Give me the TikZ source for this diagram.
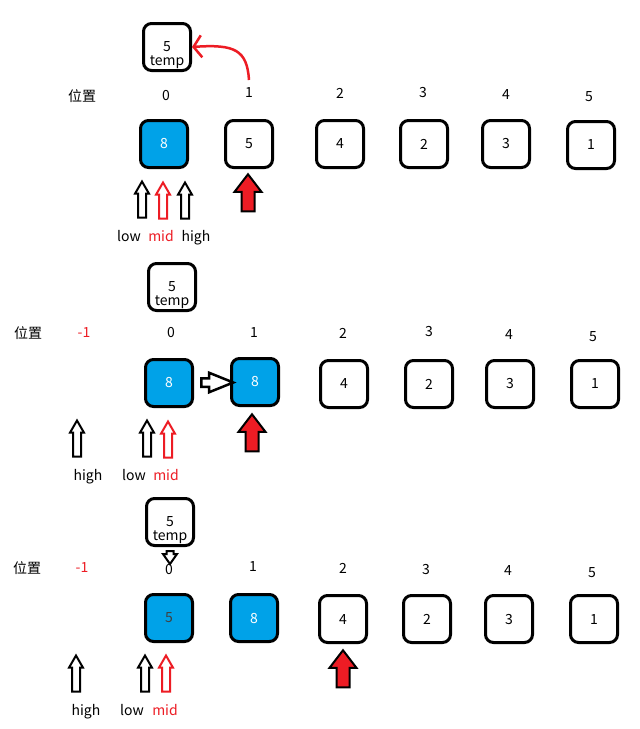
\documentclass[tikz,border=0pt]{standalone}
\usepackage{fontspec}
\setmainfont{Noto Sans CJK SC}
\usetikzlibrary{shapes.arrows,arrows.meta,calc}
\definecolor{paintblue}{RGB}{0,162,232}
\definecolor{paintred}{RGB}{237,28,36}

\begin{document}
\begin{tikzpicture}[x=1pt,y=-1pt,
	every node/.style={font=\fontsize{14}{16}\selectfont},
	cell/.style={draw,line width=3pt,rounded corners=8pt,minimum size=47pt,inner sep=0pt},
	bluecell/.style={cell,fill=paintblue,text=white},
	bluecelldark/.style={cell,fill=paintblue,text=black!75},
	ptr/.style={single arrow,draw=black,fill=white,line width=2pt,rotate=90,inner xsep=0pt,inner ysep=3pt,
		minimum height=36pt,single arrow head extend=3pt,single arrow tip angle=60},
	ptrmid/.style={ptr,draw=paintred},
	cur/.style={single arrow,draw=black,fill=paintred,line width=2pt,rotate=90,inner xsep=0pt,inner ysep=5.5pt,
		minimum height=37pt,single arrow head extend=7pt,single arrow tip angle=75},
	movearr/.style={single arrow,draw=black,fill=white,line width=2.5pt,inner xsep=0pt,inner ysep=3pt,
		minimum height=32pt,single arrow head extend=5.5pt,single arrow tip angle=44},
	drop/.style={single arrow,draw=black,fill=white,line width=2pt,rotate=-90,inner xsep=0pt,inner ysep=2.5pt,
		minimum height=13pt,single arrow head extend=3.5pt,single arrow tip angle=70},
	lbl/.style={anchor=base},
	]
	\useasboundingbox[fill=white] (0,0) rectangle (640,729);

	% step 1
	\node[cell] (t1) at (167,47) {};
	\node (t1v) at ($(t1.center)+(0,0)$) {5};
	\node[lbl] (t1n) at ($(t1.center)+(0,18)$) {temp};
	\node (r1pos) at (82,96) {位置};
	\foreach \i/\x/\y in {0/166/96,1/249/93,2/340/93,3/423/93,4/506/95,5/589/97}
		\node (r1p\i) at (\x,\y) {\i};
	\foreach \i/\x/\y/\v/\s in {0/164/144/8/bluecell,1/249/144/5/cell,2/340/144/4/cell,3/424/144/2/cell,4/506/144/3/cell,5/591/145/1/cell}
		\node[\s] (r1b\i) at (\x,\y) {\v};
	\coordinate (r1from) at (249,80);
	\draw[paintred,line width=2.5pt,-{Straight Barb[length=8pt,width=22pt]}] (r1from) .. controls (247,50) and (235,44) .. (t1.east);
	\node[ptr] (r1low) at (142,203) {};
	\node[ptrmid] (r1mid) at (163,204) {};
	\node[ptr] (r1high) at (185,204) {};
	\node[cur] (r1cur) at (248,197) {};
	\node[lbl] (r1lowt) at (129,241) {low};
	\node[lbl,text=paintred] (r1midt) at (161,241) {mid};
	\node[lbl] (r1hight) at (196,241) {high};

	% step 2
	\node[cell] (t2) at (172,287) {};
	\node (t2v) at ($(t2.center)+(0,0)$) {5};
	\node[lbl] (t2n) at ($(t2.center)+(0,18)$) {temp};
	\node (r2pos) at (28,333) {位置};
	\node[text=paintred] (r2pm) at (84,333) {-1};
	\foreach \i/\x/\y in {0/171/333,1/254/333,2/343/333,3/429/332,4/509/335,5/593/337}
		\node (r2p\i) at (\x,\y) {\i};
	\foreach \i/\x/\y/\v/\s in {0/169/383/8/bluecell,1/255/382/8/bluecell,2/344/384/4/cell,3/429/384/2/cell,4/510/384/3/cell,5/595/384/1/cell}
		\node[\s] (r2b\i) at (\x,\y) {\v};
	\node[movearr] (r2move) at ($(r2b0.east)!0.5!(r2b1.west)$) {};
	\node[ptr] (r2high) at (77,442) {};
	\node[ptr] (r2low) at (147,442) {};
	\node[ptrmid] (r2mid) at (168,443) {};
	\node[cur] (r2cur) at (252,437) {};
	\node[lbl] (r2hight) at (88,480) {high};
	\node[lbl] (r2lowt) at (134,480) {low};
	\node[lbl,text=paintred] (r2midt) at (166,480) {mid};

	% step 3
	\node[cell] (t3) at (170,522) {};
	\node (t3v) at ($(t3.center)+(0,0)$) {5};
	\node[lbl] (t3n) at ($(t3.center)+(0,18)$) {temp};
	\node[drop] (r3drop) at (170,555) {};
	\node (r3pos) at (27,568) {位置};
	\node[text=paintred] (r3pm) at (82,568) {-1};
	\foreach \i/\x/\y in {0/169/570,1/253/567,2/343/568,3/426/570,4/508/571,5/592/573}
		\node (r3p\i) at (\x,\y) {\i};
	\foreach \i/\x/\y/\v/\s in {0/169/618/5/bluecelldark,1/254/618/8/bluecell,2/343/619/4/cell,3/427/619/2/cell,4/509/619/3/cell,5/594/619/1/cell}
		\node[\s] (r3b\i) at (\x,\y) {\v};
	\node[ptr] (r3high) at (76,677) {};
	\node[ptr] (r3low) at (145,677) {};
	\node[ptrmid] (r3mid) at (166,677) {};
	\node[cur] (r3cur) at (343,673) {};
	\node[lbl] (r3hight) at (86,715) {high};
	\node[lbl] (r3lowt) at (132,715) {low};
	\node[lbl,text=paintred] (r3midt) at (165,715) {mid};
\end{tikzpicture}
\end{document}
